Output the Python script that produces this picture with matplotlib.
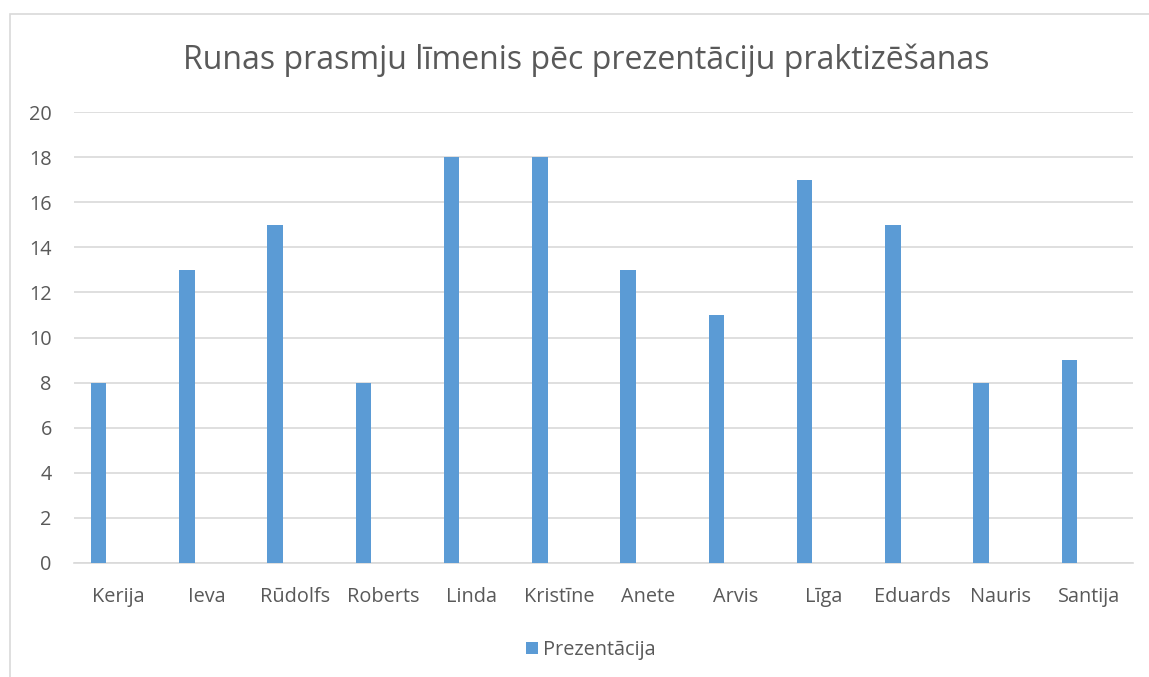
import matplotlib.pyplot as plt
import matplotlib.patches as mpatches
import numpy as np

names = ['Kerija', 'Ieva', 'Rūdolfs', 'Roberts', 'Linda', 'Kristīne', 'Anete',
         'Arvis', 'Līga', 'Eduards', 'Nauris', 'Santija']
scores = [8, 13, 15, 8, 18, 18, 13, 11, 17, 15, 8, 9]

plt.rcParams['font.family'] = ['Open Sans', 'DejaVu Sans']
txt = '#595959'

fig = plt.figure(figsize=(11.49, 6.77), dpi=100)
W, H = 1149, 677
# chart frame like the spreadsheet chart area
fig.add_artist(mpatches.Rectangle((10 / W, -0.01), 1.2, 1 - 14 / H + 0.01,
                                  transform=fig.transFigure, fill=False,
                                  edgecolor='#D9D9D9', lw=1.2))

ax = fig.add_axes([74 / W, 1 - 563 / H, (1133 - 74) / W, (563 - 112) / H])
x = np.arange(len(names))
ax.bar(x - 0.22, scores, width=0.175, color='#5B9BD5', label='Prezentācija', zorder=3)

ax.set_xlim(-0.5, len(names) - 0.5)
ax.set_ylim(0, 20)
ax.set_yticks(range(0, 21, 2))
ax.set_xticks(x)
ax.set_xticklabels(names)
ax.grid(axis='y', color='#D9D9D9', lw=1.2, zorder=0)
for s in ['top', 'right', 'left']:
    ax.spines[s].set_visible(False)
ax.spines['bottom'].set_color('#D9D9D9')
ax.spines['bottom'].set_linewidth(1.2)
ax.tick_params(length=0, labelsize=14.3, colors=txt)
ax.tick_params(axis='x', pad=17)
ax.tick_params(axis='y', pad=16)

fig.text(586 / W, 1 - 60 / H, 'Runas prasmju līmenis pēc prezentāciju praktizēšanas',
         ha='center', va='center', fontsize=23, color=txt)

fig.legend(loc='center', bbox_to_anchor=(591 / W, 1 - 650 / H), frameon=False,
           fontsize=14.3, labelcolor=txt, handlelength=0.6, handleheight=0.6,
           handletextpad=0.25)

fig.savefig('out.png', dpi=100)
